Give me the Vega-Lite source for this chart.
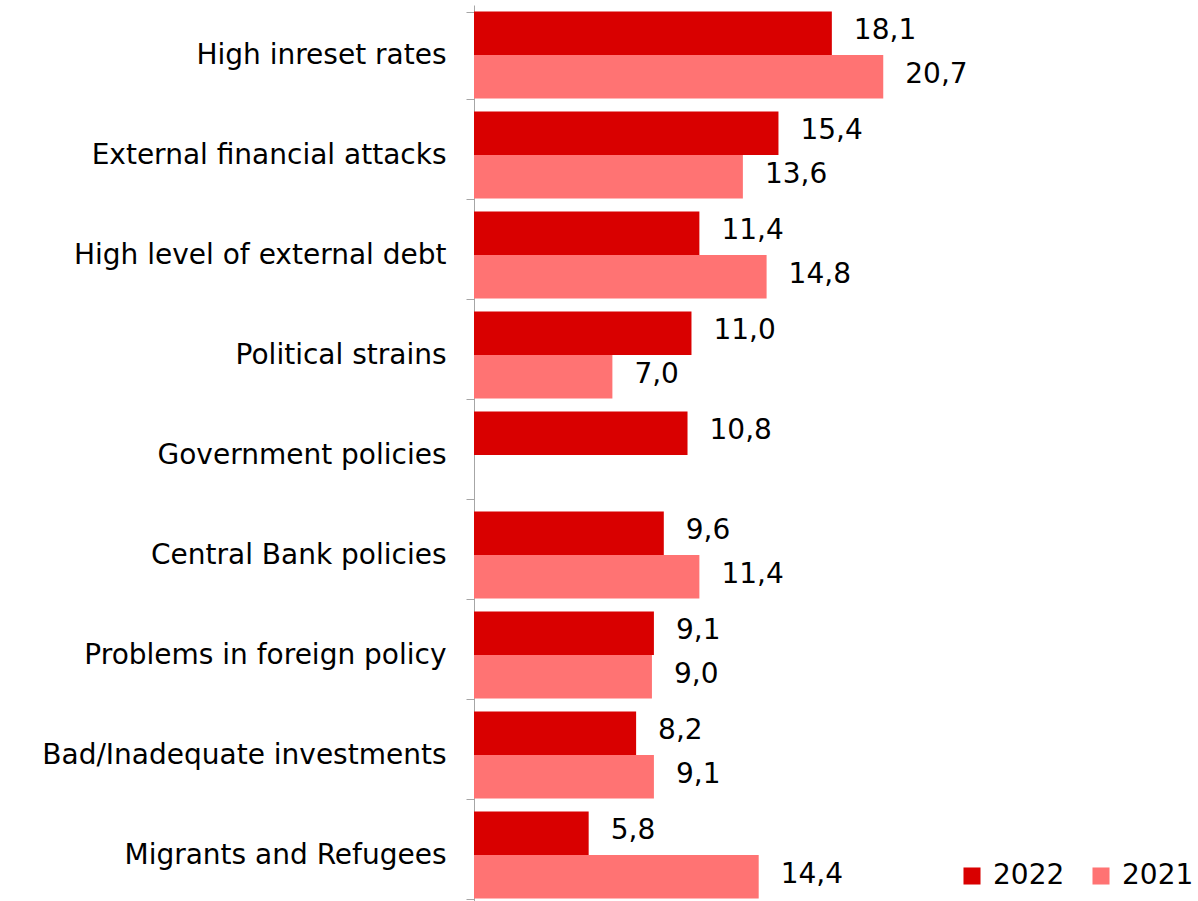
{
  "$schema": "https://vega.github.io/schema/vega-lite/v6.json",
  "autosize": {"type": "none"},
  "padding": {"left": 474, "top": 5, "right": 0, "bottom": 0},
  "width": 724,
  "height": 900,
  "background": "white",
  "config": {
    "view": {"stroke": null},
    "font": "DejaVu Sans",
    "locale": {"number": {"decimal": ",", "thousands": ".", "grouping": [3], "currency": ["", " €"]}}
  },
  "data": {
    "values": [
      {"cause": "High inreset rates", "year": "2022", "value": 18.1},
      {"cause": "High inreset rates", "year": "2021", "value": 20.7},
      {"cause": "External financial attacks", "year": "2022", "value": 15.4},
      {"cause": "External financial attacks", "year": "2021", "value": 13.6},
      {"cause": "High level of external debt", "year": "2022", "value": 11.4},
      {"cause": "High level of external debt", "year": "2021", "value": 14.8},
      {"cause": "Political strains", "year": "2022", "value": 11.0},
      {"cause": "Political strains", "year": "2021", "value": 7.0},
      {"cause": "Government policies", "year": "2022", "value": 10.8},
      {"cause": "Central Bank policies", "year": "2022", "value": 9.6},
      {"cause": "Central Bank policies", "year": "2021", "value": 11.4},
      {"cause": "Problems in foreign policy", "year": "2022", "value": 9.1},
      {"cause": "Problems in foreign policy", "year": "2021", "value": 9.0},
      {"cause": "Bad/Inadequate investments", "year": "2022", "value": 8.2},
      {"cause": "Bad/Inadequate investments", "year": "2021", "value": 9.1},
      {"cause": "Migrants and Refugees", "year": "2022", "value": 5.8},
      {"cause": "Migrants and Refugees", "year": "2021", "value": 14.4}
    ]
  },
  "encoding": {
    "y": {
      "field": "cause", "type": "nominal", "sort": null,
      "scale": {"paddingInner": 0.13, "paddingOuter": 0.065},
      "axis": {
        "title": null, "tickBand": "extent", "domainColor": "#A6A6A6", "tickColor": "#A6A6A6",
        "tickSize": 8, "labelPadding": 20, "labelFontSize": 28, "labelColor": "#000000",
        "labelFont": "DejaVu Sans", "labelLimit": 600
      }
    },
    "yOffset": {"field": "year", "type": "nominal", "sort": ["2022", "2021"], "scale": {"paddingInner": 0, "paddingOuter": 0}},
    "x": {"field": "value", "type": "quantitative", "scale": {"domain": [0, 36.62], "nice": false}, "axis": null}
  },
  "layer": [
    {
      "mark": {"type": "bar"},
      "encoding": {
        "color": {
          "field": "year", "type": "nominal",
          "scale": {"domain": ["2022", "2021"], "range": ["#D90000", "#FF7373"]},
          "legend": {
            "title": null, "orient": "none", "direction": "horizontal", "legendX": 484, "legendY": 857,
            "symbolType": "square", "symbolSize": 290, "symbolStrokeWidth": 0, "symbolOpacity": 1,
            "labelFontSize": 28, "labelColor": "#000000", "labelFont": "DejaVu Sans", "columnPadding": 22, "labelOffset": 7
          }
        }
      }
    },
    {
      "mark": {"type": "text", "align": "left", "baseline": "middle", "dx": 22, "dy": -2, "fontSize": 28, "color": "#000000", "font": "DejaVu Sans"},
      "encoding": {"text": {"field": "value", "type": "quantitative", "format": ".1f"}}
    }
  ]
}
